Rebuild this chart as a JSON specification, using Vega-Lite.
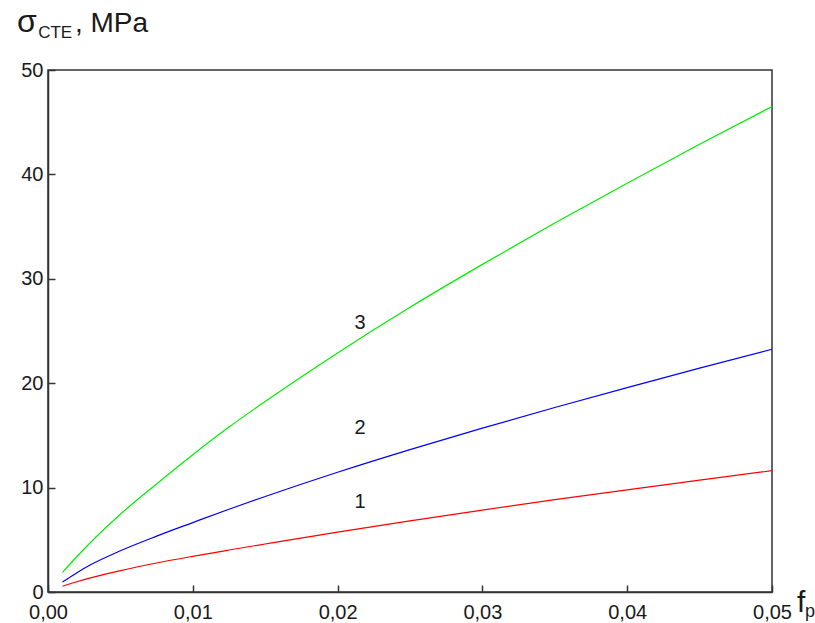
{
  "$schema": "https://vega.github.io/schema/vega-lite/v6.json",
  "width": 724,
  "height": 522,
  "autosize": "none",
  "padding": {"left": 48, "top": 70, "right": 43, "bottom": 31},
  "background": "white",
  "config": {
    "font": "Liberation Sans",
    "view": {"stroke": "#333333", "strokeWidth": 1.5},
    "axis": {
      "grid": false,
      "domainColor": "#333333",
      "domainWidth": 1.5,
      "tickColor": "#333333",
      "tickWidth": 1.5,
      "tickSize": -7,
      "labelFlush": false,
      "labelOverlap": false,
      "labelFont": "Liberation Sans",
      "labelFontSize": 20,
      "labelColor": "#1a1a1a",
      "title": null
    }
  },
  "datasets": {
    "curves": [
      {"f": 0.001, "s": 3, "v": 1.87}, {"f": 0.002, "s": 3, "v": 3.4}, {"f": 0.003, "s": 3, "v": 4.84}, {"f": 0.005, "s": 3, "v": 7.45}, {"f": 0.0075, "s": 3, "v": 10.35}, {"f": 0.01, "s": 3, "v": 13.15}, {"f": 0.0125, "s": 3, "v": 15.8}, {"f": 0.015, "s": 3, "v": 18.25}, {"f": 0.02, "s": 3, "v": 22.9}, {"f": 0.025, "s": 3, "v": 27.27}, {"f": 0.03, "s": 3, "v": 31.38}, {"f": 0.035, "s": 3, "v": 35.34}, {"f": 0.04, "s": 3, "v": 39.16}, {"f": 0.045, "s": 3, "v": 42.88}, {"f": 0.05, "s": 3, "v": 46.5},
      {"f": 0.001, "s": 2, "v": 0.95}, {"f": 0.002, "s": 2, "v": 1.85}, {"f": 0.003, "s": 2, "v": 2.65}, {"f": 0.005, "s": 2, "v": 3.95}, {"f": 0.0075, "s": 2, "v": 5.35}, {"f": 0.01, "s": 2, "v": 6.65}, {"f": 0.0125, "s": 2, "v": 7.93}, {"f": 0.015, "s": 2, "v": 9.15}, {"f": 0.02, "s": 2, "v": 11.47}, {"f": 0.025, "s": 2, "v": 13.64}, {"f": 0.03, "s": 2, "v": 15.69}, {"f": 0.035, "s": 2, "v": 17.67}, {"f": 0.04, "s": 2, "v": 19.58}, {"f": 0.045, "s": 2, "v": 21.44}, {"f": 0.05, "s": 2, "v": 23.25},
      {"f": 0.001, "s": 1, "v": 0.55}, {"f": 0.002, "s": 1, "v": 0.98}, {"f": 0.003, "s": 1, "v": 1.37}, {"f": 0.005, "s": 1, "v": 2.05}, {"f": 0.0075, "s": 1, "v": 2.78}, {"f": 0.01, "s": 1, "v": 3.42}, {"f": 0.0125, "s": 1, "v": 4.02}, {"f": 0.015, "s": 1, "v": 4.6}, {"f": 0.02, "s": 1, "v": 5.74}, {"f": 0.025, "s": 1, "v": 6.82}, {"f": 0.03, "s": 1, "v": 7.85}, {"f": 0.035, "s": 1, "v": 8.84}, {"f": 0.04, "s": 1, "v": 9.79}, {"f": 0.045, "s": 1, "v": 10.72}, {"f": 0.05, "s": 1, "v": 11.62}
    ],
    "labels": [
      {"f": 0.02155, "v": 25.8, "t": "3"},
      {"f": 0.02155, "v": 15.7, "t": "2"},
      {"f": 0.02155, "v": 8.6, "t": "1"}
    ]
  },
  "layer": [
    {
      "data": {"name": "curves"},
      "mark": {"type": "line", "strokeWidth": 1.2, "interpolate": "monotone"},
      "encoding": {
        "x": {"field": "f", "type": "quantitative", "scale": {"domain": [0, 0.05], "nice": false, "zero": false},
          "axis": {"values": [0, 0.01, 0.02, 0.03, 0.04, 0.05], "labelExpr": "replace(format(datum.value, '.2f'), '.', ',')", "labelPadding": 17}},
        "y": {"field": "v", "type": "quantitative", "scale": {"domain": [0, 50], "nice": false},
          "axis": {"values": [0, 10, 20, 30, 40, 50], "format": "d", "labelPadding": 12}},
        "color": {"field": "s", "type": "nominal", "scale": {"domain": [1, 2, 3], "range": ["#ff0000", "#0000ff", "#00ee00"]}, "legend": null},
        "detail": {"field": "s"}
      }
    },
    {
      "data": {"name": "labels"},
      "mark": {"type": "text", "fontSize": 20, "font": "Liberation Sans", "color": "#1a1a1a", "align": "center", "baseline": "middle"},
      "encoding": {
        "x": {"field": "f", "type": "quantitative"},
        "y": {"field": "v", "type": "quantitative"},
        "text": {"field": "t"}
      }
    },
    {
      "data": {"values": [{}]},
      "mark": {"type": "text", "fontSize": 32, "font": "Liberation Sans", "color": "#1a1a1a", "align": "left", "baseline": "alphabetic"},
      "encoding": {"x": {"datum": -0.00214, "type": "quantitative"}, "y": {"datum": 53.64, "type": "quantitative"}, "text": {"value": "σ"}}
    },
    {
      "data": {"values": [{}]},
      "mark": {"type": "text", "fontSize": 17, "font": "Liberation Sans", "color": "#1a1a1a", "align": "left", "baseline": "alphabetic"},
      "encoding": {"x": {"datum": -0.00068, "type": "quantitative"}, "y": {"datum": 53.07, "type": "quantitative"}, "text": {"value": "CTE"}}
    },
    {
      "data": {"values": [{}]},
      "mark": {"type": "text", "fontSize": 28, "font": "Liberation Sans", "color": "#1a1a1a", "align": "left", "baseline": "alphabetic"},
      "encoding": {"x": {"datum": 0.00186, "type": "quantitative"}, "y": {"datum": 53.64, "type": "quantitative"}, "text": {"value": ", MPa"}}
    },
    {
      "data": {"values": [{}]},
      "mark": {"type": "text", "fontSize": 30, "font": "Liberation Sans", "color": "#1a1a1a", "align": "left", "baseline": "alphabetic"},
      "encoding": {"x": {"datum": 0.05173, "type": "quantitative"}, "y": {"datum": -1.92, "type": "quantitative"}, "text": {"value": "f"}}
    },
    {
      "data": {"values": [{}]},
      "mark": {"type": "text", "fontSize": 18, "font": "Liberation Sans", "color": "#1a1a1a", "align": "left", "baseline": "alphabetic"},
      "encoding": {"x": {"datum": 0.05228, "type": "quantitative"}, "y": {"datum": -2.39, "type": "quantitative"}, "text": {"value": "p"}}
    }
  ]
}
